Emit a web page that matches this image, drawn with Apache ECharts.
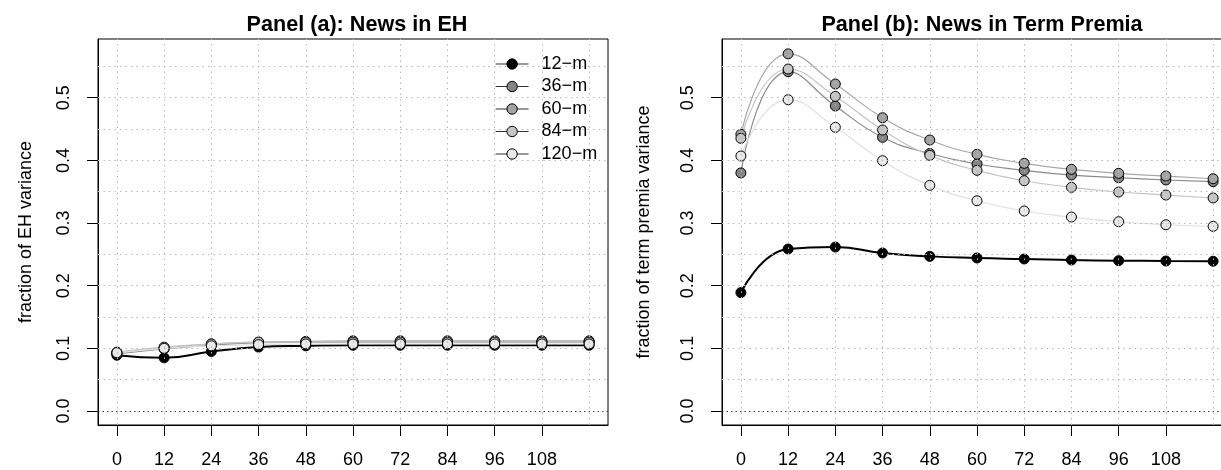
<!DOCTYPE html>
<html>
<head>
<meta charset="utf-8">
<script src="https://cdn.jsdelivr.net/npm/echarts@6/dist/echarts.min.js"></script>
<style>
html,body{margin:0;padding:0;background:#fff;}
#chart{width:1221px;height:470px;}
</style>
</head>
<body>
<div id="chart"></div>
<script>
// ---- data ----
const horizons = [0, 12, 24, 36, 48, 60, 72, 84, 96, 108, 120];
const xTickLabels = [0, 12, 24, 36, 48, 60, 72, 84, 96, 108];
const yTickLabels = [0, 0.1, 0.2, 0.3, 0.4, 0.5];
const seriesNames = ['12\u2212m', '36\u2212m', '60\u2212m', '84\u2212m', '120\u2212m'];

// Panel (a): News in EH
const eh12  = [0.089, 0.085, 0.095, 0.102, 0.104, 0.105, 0.105, 0.105, 0.105, 0.105, 0.105];
const eh36  = [0.091, 0.099, 0.105, 0.109, 0.110, 0.110, 0.110, 0.110, 0.110, 0.110, 0.110];
const eh60  = [0.093, 0.101, 0.107, 0.110, 0.111, 0.112, 0.112, 0.112, 0.112, 0.112, 0.112];
const eh84  = [0.094, 0.102, 0.107, 0.110, 0.110, 0.110, 0.110, 0.110, 0.110, 0.110, 0.110];
const eh120 = [0.093, 0.100, 0.104, 0.106, 0.107, 0.107, 0.107, 0.107, 0.107, 0.107, 0.107];

// Panel (b): News in Term Premia
const tp12  = [0.189, 0.2585, 0.2617, 0.2522, 0.2468, 0.2442, 0.2426, 0.2410, 0.2400, 0.2394, 0.2390];
const tp36  = [0.380, 0.5415, 0.4868, 0.4368, 0.4110, 0.3942, 0.3841, 0.3766, 0.3723, 0.3687, 0.3660];
const tp60  = [0.4416, 0.5700, 0.5219, 0.4680, 0.4325, 0.4097, 0.3953, 0.3857, 0.3793, 0.3750, 0.3707];
const tp84  = [0.4352, 0.5458, 0.5022, 0.4485, 0.4080, 0.3841, 0.3675, 0.3570, 0.3495, 0.3447, 0.3400];
const tp120 = [0.4070, 0.4968, 0.4527, 0.3995, 0.3602, 0.3356, 0.3192, 0.3096, 0.3021, 0.2973, 0.2947];

const gridH = [0.05, 0.1, 0.15, 0.2, 0.25, 0.3, 0.35, 0.4, 0.45, 0.5, 0.55];
const gridV = [0, 12, 24, 36, 48, 60, 72, 84, 96, 108, 120];

// ---- styling ----
const FONT = '"Liberation Sans", Arial, Helvetica, sans-serif';
const lineColors = ['#000000', '#8a8a8a', '#a8a8a8', '#c4c4c4', '#e0e0e0'];
const fillColors = ['#000000', '#858585', '#a3a3a3', '#c6c6c6', '#e8e8e8'];
const lineWidths = [2, 1.2, 1.2, 1.2, 1.2];

function pairs(arr) { return horizons.map((h, i) => [h, arr[i]]); }

function mkSeries(idx, data, ax) {
  return {
    name: seriesNames[idx],
    type: 'line',
    xAxisIndex: ax, yAxisIndex: ax,
    data: pairs(data),
    smooth: 0.5,
    symbol: 'circle',
    symbolSize: 10,
    lineStyle: { color: lineColors[idx], width: lineWidths[idx] },
    itemStyle: { color: fillColors[idx], borderColor: '#000', borderWidth: 1 },
    emphasis: { disabled: true },
    z: 3
  };
}

function gridSeries(ax) {
  const lines = [];
  gridH.forEach(v => lines.push({ yAxis: v, lineStyle: { color: '#b8b8b8', type: [1.5, 4], width: 1 } }));
  gridV.forEach(v => lines.push({ xAxis: v, lineStyle: { color: '#b8b8b8', type: [1.5, 4], width: 1 } }));
  lines.push({ yAxis: 0, lineStyle: { color: '#444', type: [1.5, 3], width: 1 } });
  return {
    type: 'line', xAxisIndex: ax, yAxisIndex: ax, data: [], silent: true, z: 1,
    markLine: { silent: true, symbol: ['none', 'none'], label: { show: false }, animation: false, data: lines }
  };
}

function xAxis(gi) {
  return {
    type: 'value', gridIndex: gi, min: -4.8, max: 124.8,
    axisLine: { show: true, onZero: false, lineStyle: { color: '#000', width: 1 } },
    splitLine: { show: false },
    axisTick: { show: true, customValues: xTickLabels, length: 11, lineStyle: { color: '#000', width: 1 } },
    axisLabel: { customValues: xTickLabels, fontSize: 18, color: '#000', fontFamily: FONT, margin: 26 }
  };
}
function yAxis(gi, name, gap) {
  return {
    type: 'value', gridIndex: gi, min: -0.0223, max: 0.5937,
    name: name, nameLocation: 'middle', nameGap: gap, nameRotate: 90,
    nameTextStyle: { fontSize: 18, color: '#000', fontFamily: FONT },
    axisLine: { show: true, onZero: false, lineStyle: { color: '#000', width: 1 } },
    splitLine: { show: false },
    axisTick: { show: true, customValues: yTickLabels, length: 11, lineStyle: { color: '#000', width: 1 } },
    axisLabel: { customValues: yTickLabels, rotate: 90, fontSize: 18, color: '#000', fontFamily: FONT, margin: 25,
      formatter: v => Number(v).toFixed(1) }
  };
}

const chart = echarts.init(document.getElementById('chart'), null, { renderer: 'canvas' });
chart.setOption({
  animation: false,
  backgroundColor: '#fff',
  title: [
    { text: 'Panel (a): News in EH', left: 352, top: 9, textAlign: 'center',
      textStyle: { fontSize: 21.6, fontWeight: 'bold', color: '#000', fontFamily: FONT } },
    { text: 'Panel (b): News in Term Premia', left: 977, top: 9, textAlign: 'center',
      textStyle: { fontSize: 21.6, fontWeight: 'bold', color: '#000', fontFamily: FONT } }
  ],
  legend: {
    data: seriesNames,
    orient: 'vertical',
    left: 490, top: 50,
    itemWidth: 33, itemHeight: 13, itemGap: 4.5,
    lineStyle: { color: '#333', width: 1.2 },
    itemStyle: { borderColor: '#000', borderWidth: 1 },
    textStyle: { fontSize: 18, color: '#000', fontFamily: FONT, lineHeight: 18, padding: [0, 0, 0, 8] },
    selectedMode: false,
    z: 10
  },
  grid: [
    { left: 98, width: 510, top: 39, bottom: 45, show: true, borderColor: '#000', borderWidth: 1,
      backgroundColor: 'transparent', outerBoundsMode: 'none' },
    { left: 722, width: 510, top: 39, bottom: 45, show: true, borderColor: '#000', borderWidth: 1,
      backgroundColor: 'transparent', outerBoundsMode: 'none' }
  ],
  xAxis: [xAxis(0), xAxis(1)],
  yAxis: [yAxis(0, 'fraction of EH variance', 63), yAxis(1, 'fraction of term premia variance', 69)],
  series: [
    gridSeries(0), gridSeries(1),
    mkSeries(0, eh12, 0), mkSeries(1, eh36, 0), mkSeries(2, eh60, 0), mkSeries(3, eh84, 0), mkSeries(4, eh120, 0),
    mkSeries(0, tp12, 1), mkSeries(1, tp36, 1), mkSeries(2, tp60, 1), mkSeries(3, tp84, 1), mkSeries(4, tp120, 1)
  ]
});
</script>
</body>
</html>
